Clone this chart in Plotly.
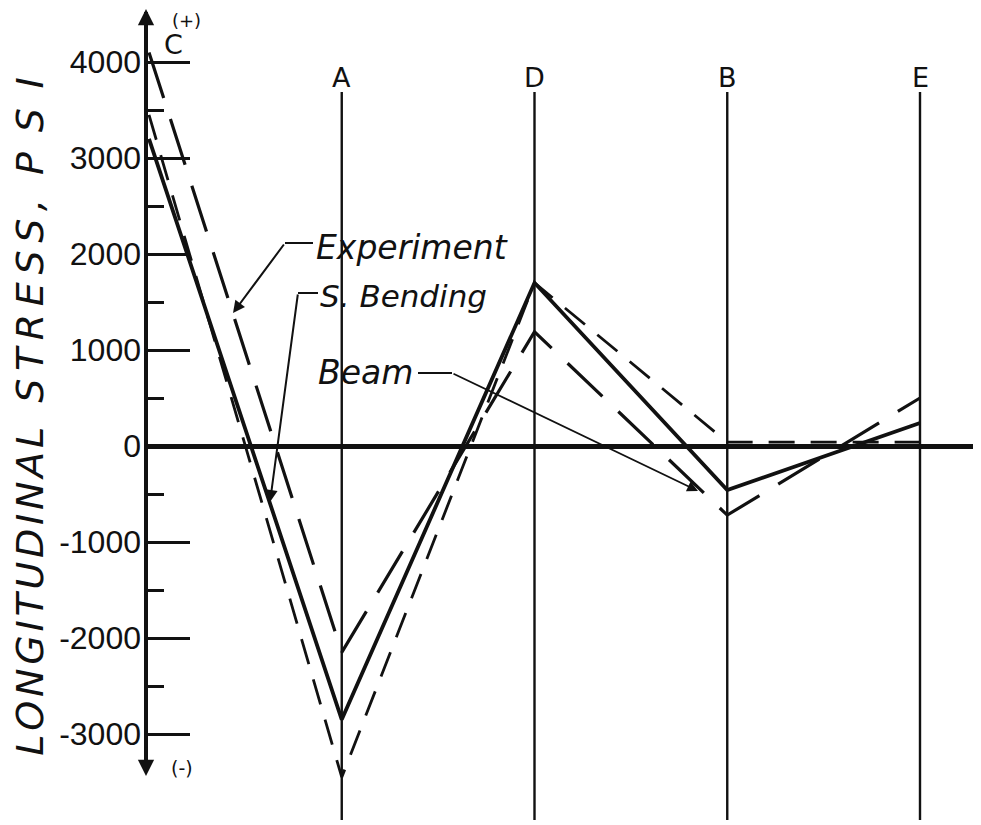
import plotly.graph_objects as go

# ---------------- data ----------------
cats = ["C", "A", "D", "B", "E"]
experiment = [4100, -2150, 1190, -720, 500]      # long dash
s_bending = [3200, -2850, 1700, -460, 240]       # solid
beam = [3450, -3450, 1700, 40, 40]               # short dash
ytick_vals = [4000, 3000, 2000, 1000, 0, -1000, -2000, -3000]
ytick_text = ["4000", "3000", "2000", "1000", "0", "-1000", "-2000", "-3000"]
minor_vals = [3500, 2500, 1500, 500, -500, -1500, -2500]

OFF = 8                      # page body margin
W, H = 981 - OFF, 825 - OFF
AXIS_PX = 146                # y-axis position in screenshot pixels
X0PX, DX = 149.0, 192.75     # screenshot pixel of first category, spacing
Y0PX, DY = 446.0, 0.096      # screenshot pixel of zero, pixels per psi


def px_x(p):
    return (p - X0PX) / DX


def px_y(p):
    return (Y0PX - p) / DY


xr = [px_x(AXIS_PX), px_x(981)]
yr = [px_y(825), px_y(OFF)]

BLACK = "#111111"
fig = go.Figure()
fig.add_trace(go.Scatter(x=cats, y=experiment, mode="lines", name="Experiment",
                         line=dict(color=BLACK, width=3.2, dash="48px,22px")))
fig.add_trace(go.Scatter(x=cats, y=s_bending, mode="lines", name="S. Bending",
                         line=dict(color=BLACK, width=3.8)))
fig.add_trace(go.Scatter(x=cats, y=beam, mode="lines", name="Beam",
                         line=dict(color=BLACK, width=2.8, dash="26px,16px")))

shapes = []
for i in range(1, len(cats)):
    shapes.append(dict(type="line", xref="x", yref="y", x0=i, x1=i,
                       y0=px_y(820), y1=px_y(92),
                       line=dict(color=BLACK, width=2.4)))
shapes.append(dict(type="line", xref="paper", yref="y", x0=0, x1=0,
                   y0=px_y(772), y1=px_y(12), line=dict(color=BLACK, width=4)))
shapes.append(dict(type="line", xref="x", yref="y", x0=px_x(285), x1=px_x(313),
                   y0=px_y(243), y1=px_y(243), line=dict(color=BLACK, width=2)))
shapes.append(dict(type="line", xref="x", yref="y", x0=px_x(298), x1=px_x(318),
                   y0=px_y(293), y1=px_y(293), line=dict(color=BLACK, width=2)))
shapes.append(dict(type="line", xref="x", yref="y", x0=px_x(418), x1=px_x(452),
                   y0=px_y(373), y1=px_y(373), line=dict(color=BLACK, width=2)))

FONT = "DejaVu Sans"
ann = []
for i, c in enumerate(cats[1:], start=1):
    ann.append(dict(x=i, y=px_y(77), xref="x", yref="y", text=c, showarrow=False,
                    font=dict(family=FONT, size=27, color=BLACK)))
ann.append(dict(x=px_x(173), y=px_y(44), xref="x", yref="y", text="C", showarrow=False,
                font=dict(family=FONT, size=27, color=BLACK)))
ann.append(dict(x=px_x(186), y=px_y(20), xref="x", yref="y", text="(+)", showarrow=False,
                font=dict(family=FONT, size=18, color=BLACK)))
ann.append(dict(x=px_x(182), y=px_y(768), xref="x", yref="y", text="(-)", showarrow=False,
                font=dict(family=FONT, size=19, color=BLACK)))
ann.append(dict(x=0, y=px_y(9), xref="paper", yref="y", text="", showarrow=True,
                ax=0, ay=30, arrowhead=2, arrowsize=1.3, arrowwidth=2.5, arrowcolor=BLACK))
ann.append(dict(x=0, y=px_y(776), xref="paper", yref="y", text="", showarrow=True,
                ax=0, ay=-30, arrowhead=2, arrowsize=1.3, arrowwidth=2.5, arrowcolor=BLACK))
ann.append(dict(x=px_x(314), y=px_y(247), xref="x", yref="y", text="Experiment",
                showarrow=False, xanchor="left",
                font=dict(family=FONT, size=33, color=BLACK, style="italic")))
ann.append(dict(x=px_x(318), y=px_y(296), xref="x", yref="y", text="S. Bending",
                showarrow=False, xanchor="left",
                font=dict(family=FONT, size=31, color=BLACK, style="italic")))
ann.append(dict(x=px_x(316), y=px_y(372), xref="x", yref="y", text="Beam",
                showarrow=False, xanchor="left",
                font=dict(family=FONT, size=33, color=BLACK, style="italic")))
ann.append(dict(x=px_x(233), y=px_y(313), xref="x", yref="y", ax=px_x(285), ay=px_y(243),
                axref="x", ayref="y", text="", showarrow=True, arrowhead=2, arrowsize=1.2,
                arrowwidth=2, arrowcolor=BLACK))
ann.append(dict(x=px_x(270), y=px_y(502), xref="x", yref="y", ax=px_x(298), ay=px_y(293),
                axref="x", ayref="y", text="", showarrow=True, arrowhead=2, arrowsize=1.2,
                arrowwidth=2, arrowcolor=BLACK))
ann.append(dict(x=px_x(698), y=px_y(491), xref="x", yref="y", ax=px_x(452), ay=px_y(373),
                axref="x", ayref="y", text="", showarrow=True, arrowhead=2, arrowsize=1.2,
                arrowwidth=1.8, arrowcolor=BLACK))

HS, TS, NB = "\u200a", "\u2009", "\u00a0"
title_text = (HS.join("LONGITUDINAL") + NB + NB + TS.join("STRESS,") + NB + NB
              + (NB + TS).join("PSI"))

fig.update_layout(
    width=W, height=H,
    margin=dict(l=AXIS_PX - OFF, r=0, t=0, b=0),
    paper_bgcolor="white", plot_bgcolor="white",
    showlegend=False,
    shapes=shapes, annotations=ann,
    xaxis=dict(type="category", range=xr, visible=False, showgrid=False, zeroline=False),
    yaxis=dict(range=yr, showgrid=False, showline=False,
               zeroline=True, zerolinecolor=BLACK, zerolinewidth=4.5,
               tickmode="array", tickvals=ytick_vals, ticktext=ytick_text,
               ticks="inside", ticklen=44, tickwidth=3, tickcolor=BLACK,
               ticklabelstandoff=4,
               tickfont=dict(family="Liberation Sans Narrow, Liberation Sans", size=32, color=BLACK),
               minor=dict(tickmode="array", tickvals=minor_vals, ticks="inside",
                          ticklen=18, tickwidth=3, tickcolor=BLACK),
               title=dict(text=title_text, standoff=14,
                          font=dict(family=FONT, size=38, color=BLACK, style="italic"))),
)

fig.write_html("out.html")
